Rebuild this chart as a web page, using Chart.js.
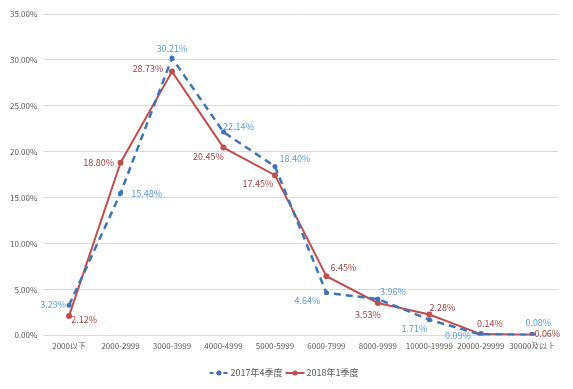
<!DOCTYPE html>
<html>
<head>
<meta charset="utf-8">
<script src="https://cdn.jsdelivr.net/npm/chart.js@4/dist/chart.umd.min.js"></script>
<style>
  html, body { margin: 0; padding: 0; background: #fff; }
  #wrap { width: 573px; height: 389px; }
</style>
</head>
<body>
<div id="wrap"><canvas id="chart"></canvas></div>
<script>
// categories and series (percent)
const categories = ['2000以下', '2000-2999', '3000-3999', '4000-4999', '5000-5999',
  '6000-7999', '8000-9999', '10000-19999', '20000-29999', '30000及以上'];
const q4_2017 = [3.29, 15.48, 30.21, 22.14, 18.40, 4.64, 3.96, 1.71, 0.09, 0.08];
const q1_2018 = [2.12, 18.80, 28.73, 20.45, 17.45, 6.45, 3.53, 2.28, 0.14, 0.06];
const seriesNames = ['2017年4季度', '2018年1季度'];
const yTicks = [0, 5, 10, 15, 20, 25, 30, 35];

const FONT = '"Noto Sans CJK SC", "DejaVu Sans", sans-serif';
const BLUE = '#3E74B8';
const BLUE_TXT = '#5B9BD5';
const RED = '#C0504D';
const RED_TXT = '#A8433F';

// label offsets relative to each point (dx, dy of text centre)
const blueLabelPos = [[-16, -1], [26, 0], [0, -9], [15, -6], [20, -8], [-19, 8], [15, -7], [-15, 9], [-23, 1], [6, -12]];
const redLabelPos = [[15, 4], [-22, 0], [-24, -3], [-15, 9], [-17, 8], [17, -9], [-10, 12], [13, -7], [9, -11], [15, -1]];

const labelPlugin = {
  id: 'pointLabels',
  afterDatasetsDraw(chart) {
    const ctx = chart.ctx;
    ctx.save();
    ctx.font = '9px ' + FONT;
    ctx.textAlign = 'center';
    ctx.textBaseline = 'middle';
    const sets = [[0, blueLabelPos, BLUE_TXT], [1, redLabelPos, RED_TXT]];
    sets.forEach(([i, pos, color]) => {
      const meta = chart.getDatasetMeta(i);
      const data = chart.data.datasets[i].data;
      ctx.fillStyle = color;
      meta.data.forEach((pt, j) => {
        ctx.fillText(data[j].toFixed(2) + '%', pt.x + pos[j][0], pt.y + pos[j][1]);
      });
    });
    ctx.restore();
  }
};

// bottom legend: line + marker + text, centred under the plot
const legendPlugin = {
  id: 'bottomLegend',
  afterDraw(chart) {
    const ctx = chart.ctx;
    const y = 373;
    const lineW = 19, gapText = 2, gapItem = 3;
    const items = [
      { color: BLUE, dash: [4, 3], width: 2, text: seriesNames[0] },
      { color: RED, dash: [], width: 2, text: seriesNames[1] }
    ];
    ctx.save();
    ctx.font = '9px ' + FONT;
    ctx.textBaseline = 'middle';
    let total = 0;
    items.forEach(it => { it.tw = ctx.measureText(it.text).width; total += lineW + gapText + it.tw; });
    total += gapItem;
    let x = 284 - total / 2;
    items.forEach(it => {
      ctx.strokeStyle = it.color;
      ctx.lineWidth = it.width;
      ctx.setLineDash(it.dash);
      ctx.beginPath();
      ctx.moveTo(x, y);
      ctx.lineTo(x + lineW, y);
      ctx.stroke();
      ctx.setLineDash([]);
      ctx.fillStyle = it.color;
      ctx.beginPath();
      ctx.arc(x + lineW / 2, y, 2.5, 0, Math.PI * 2);
      ctx.fill();
      ctx.fillStyle = '#595959';
      ctx.textAlign = 'left';
      ctx.fillText(it.text, x + lineW + gapText, y);
      x += lineW + gapText + it.tw + gapItem;
    });
    ctx.restore();
  }
};

new Chart(document.getElementById('chart'), {
  type: 'line',
  data: {
    labels: categories,
    datasets: [
      {
        label: seriesNames[0],
        data: q4_2017,
        borderColor: BLUE,
        backgroundColor: BLUE,
        borderWidth: 2.5,
        borderDash: [7, 5],
        pointRadius: 2.5,
        pointBorderWidth: 0,
        pointHoverRadius: 2.5,
        tension: 0
      },
      {
        label: seriesNames[1],
        data: q1_2018,
        borderColor: RED,
        backgroundColor: RED,
        borderWidth: 2,
        pointRadius: 3,
        pointBorderWidth: 0,
        pointHoverRadius: 3,
        tension: 0
      }
    ]
  },
  options: {
    responsive: true,
    maintainAspectRatio: false,
    animation: false,
    layout: { padding: { top: 14, right: 15, bottom: 40, left: 4 } },
    plugins: {
      legend: { display: false },
      tooltip: { enabled: false }
    },
    scales: {
      x: {
        offset: true,
        grid: { display: false },
        border: { display: false },
        ticks: {
          color: '#595959',
          font: { family: FONT, size: 8 },
          maxRotation: 0,
          autoSkip: false,
          padding: -2
        }
      },
      y: {
        min: 0,
        max: 35,
        afterBuildTicks(axis) {
          axis.ticks = yTicks.map(v => ({ value: v }));
        },
        grid: { color: '#D9D9D9', lineWidth: 1, drawTicks: false },
        border: { display: false },
        ticks: {
          color: '#595959',
          font: { family: FONT, size: 8 },
          padding: 6,
          callback: v => v.toFixed(2) + '%'
        }
      }
    }
  },
  plugins: [labelPlugin, legendPlugin]
});
</script>
</body>
</html>
